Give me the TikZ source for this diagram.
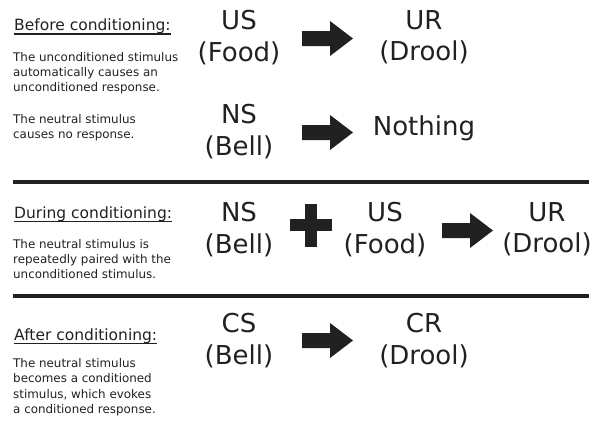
\documentclass[tikz,border=0pt]{standalone}
\usepackage{fontspec}
\setmainfont{DejaVu Sans}
\definecolor{ink}{gray}{0.13}
\tikzset{
  big/.style={font=\fontsize{26}{31.5}\selectfont, align=center, inner sep=0pt, text=ink, anchor=north},
  headtxt/.style={font=\fontsize{15.5}{18}\selectfont, inner sep=0pt, text=ink, anchor=base west},
  smalltxt/.style={font=\fontsize{11.9}{15.2}\selectfont, align=left, inner sep=0pt, text=ink, anchor=north west},
  rule/.style={line width=4pt, draw=ink},
  uline/.style={line width=1.2pt, draw=ink}
}
% block arrow: #1 = named coordinate at the left end, centre line
\newcommand{\blockarrowat}[1]{%
  \fill[ink] ([yshift=7.5pt]#1) -- ++(28pt,0) -- ++(0,10pt) -- ++(23pt,-17.5pt)
    -- ++(-23pt,-17.5pt) -- ++(0,10pt) -- ++(-28pt,0) -- cycle;}
\begin{document}
\begin{tikzpicture}[x=1pt,y=-1pt]
\useasboundingbox (0,0) rectangle (603,421);
% left column
\node[headtxt] (h1) at (14,30.5) {Before conditioning:};
\draw[uline] ([yshift=-3.5pt]h1.base west) -- ([yshift=-3.5pt]h1.base east);
\node[smalltxt] (p1) at (13,51.8) {The unconditioned stimulus\\automatically causes an\\unconditioned response.};
\node[smalltxt] (p2) at (13,113.8) {The neutral stimulus\\causes no response.};
\node[headtxt] (h2) at (14,218) {During conditioning:};
\draw[uline] ([yshift=-3.5pt]h2.base west) -- ([yshift=-3.5pt]h2.base east);
\node[smalltxt] (p3) at (13,239) {The neutral stimulus is\\repeatedly paired with the\\unconditioned stimulus.};
\node[headtxt] (h3) at (14,340) {After conditioning:};
\draw[uline] ([yshift=-3.5pt]h3.base west) -- ([yshift=-3.5pt]h3.base east);
\node[smalltxt] (p4) at (13,358.5) {The neutral stimulus\\becomes a conditioned\\stimulus, which evokes\\a conditioned response.};
% separators
\coordinate (l1a) at (13,182); \coordinate (l1b) at (589,182);
\coordinate (l2a) at (13,296); \coordinate (l2b) at (589,296);
\draw[rule] (l1a) -- (l1b);
\draw[rule] (l2a) -- (l2b);
% row 1
\node[big] (us1) at (239,10) {US\\(Food)};
\coordinate (a1) at (302,38.5);
\blockarrowat{a1}
\node[big] (ur1) at (424,10) {UR\\(Drool)};
% row 2
\node[big] (ns2) at (239,104) {NS\\(Bell)};
\coordinate (a2) at (302,132.5);
\blockarrowat{a2}
\node[big, anchor=base] (no2) at (424,135) {Nothing};
% row 3
\node[big] (ns3) at (239,202) {NS\\(Bell)};
\fill[ink] (305,204) rectangle (317,247);
\fill[ink] (290,219) rectangle (332,231);
\node[big] (us3) at (385,202) {US\\(Food)};
\coordinate (a3) at (442,230.5);
\blockarrowat{a3}
\node[big] (ur3) at (547,202) {UR\\(Drool)};
% row 4
\node[big] (cs4) at (239,313) {CS\\(Bell)};
\coordinate (a4) at (302,340.5);
\blockarrowat{a4}
\node[big] (cr4) at (424,313) {CR\\(Drool)};
\end{tikzpicture}
\end{document}
